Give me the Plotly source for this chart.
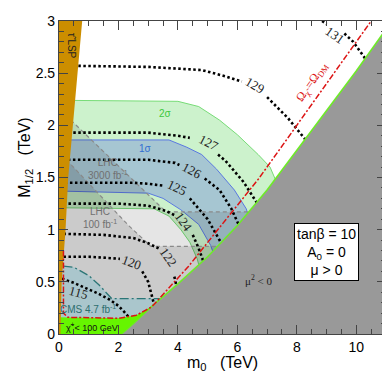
import plotly.graph_objects as go

# ---------------- data (TeV) ----------------
# boundary of the mu^2<0 (no EWSB) region
ewsb_x = [2.1, 2.5, 3.1, 4.0, 5.0, 6.0, 7.0, 8.0, 9.0, 10.0, 11.0]
ewsb_y = [0.0, 0.1, 0.26, 0.48, 0.74, 1.04, 1.38, 1.76, 2.14, 2.52, 2.92]

# stau LSP region
stau_x = [0, 0, 0.78, 0.62, 0.47, 0.31, 0.22, 0.09, 0.05]
stau_y = [0, 3, 3, 2.5, 2.0, 1.5, 1.0, 0.5, 0.0]

# chargino < 100 GeV region
chi_x = [0, 0, 2.0, 2.6, 3.12, 2.5, 2.1]
chi_y = [0, 0.16, 0.15, 0.18, 0.26, 0.1, 0]

# 2 sigma band
sig2_up_x = [0, 4.0, 4.7, 5.4, 6.0, 6.7, 7.1, 7.4, 7.7]
sig2_up_y = [2.24, 2.23, 2.18, 2.05, 1.91, 1.72, 1.6, 1.4, 1.1]
sig2_lo_x = [0, 3.2, 3.7, 4.1, 4.4, 4.65, 4.85]
sig2_lo_y = [1.21, 1.2, 1.13, 1.0, 0.88, 0.72, 0.5]

# 1 sigma band
sig1_up_x = [0, 3.7, 4.3, 4.8, 5.3, 5.9, 6.3, 6.6]
sig1_up_y = [1.86, 1.86, 1.79, 1.72, 1.58, 1.38, 1.2, 0.9]
sig1_lo_x = [0, 3.0, 3.5, 4.1, 4.7, 5.1, 5.35]
sig1_lo_y = [1.37, 1.35, 1.3, 1.19, 1.05, 0.85, 0.65]

# LHC reach
lhc3000_x = [0.4, 2.78, 3.6, 6.6]
lhc3000_y = [2.05, 1.40, 1.17, 1.17]
lhc100_x = [0.25, 2.34, 3.09, 5.6]
lhc100_y = [1.67, 1.04, 0.84, 0.84]

# CMS 4.7 fb^-1 exclusion
cms_x = [0.15, 0.5, 1.0, 1.35, 1.77, 3.5]
cms_y = [0.65, 0.64, 0.56, 0.47, 0.34, 0.34]

# relic density line
relic_x = [0.15, 0.15, 0.3, 2.0, 2.6, 3.12, 4.36, 6.72, 8.0, 10.5]
relic_y = [0.8, 0.2, 0.16, 0.15, 0.18, 0.26, 0.65, 1.49, 2.0, 3.0]

# Higgs mass contours (GeV): x, y, label position, label angle
mh_levels = ["115", "120", "122", "124", "125", "126", "127", "129", "131"]
mh_x = [
    [0.1, 0.5, 0.9, 1.3, 1.7, 2.0, 2.2, 2.35],
    [0.15, 1.0, 1.6, 2.05, None, 2.8, 3.0, 3.12, 3.2],
    [0.15, 1.5, 2.5, 3.0, 3.35, None, 3.88, 3.96, 4.0],
    [0.15, 2.0, 3.0, 3.6, 3.95, None, 4.5, 4.7, 4.85, 4.95],
    [0.2, 2.5, 3.0, 3.55, None, 4.4, 5.0, 5.3, 5.5, 5.6],
    [0.3, 3.0, 3.9, 4.05, None, 4.9, 5.4, 5.8, 6.05, 6.2],
    [0.48, 3.0, 4.0, 4.4, None, 5.35, 5.6, 6.2, 6.65, 6.8],
    [0.65, 3.0, 4.8, 5.6, 6.15, None, 7.0, 7.7, 8.3, 8.45],
    [8.85, 9.0, None, 9.6, 9.9, 10.3, 10.45],
]
mh_y = [
    [0.53, 0.49, 0.44, 0.39, 0.33, 0.27, 0.21, 0.16],
    [0.74, 0.74, 0.73, 0.72, None, 0.6, 0.5, 0.37, 0.28],
    [0.96, 0.95, 0.92, 0.87, 0.82, None, 0.55, 0.46, 0.40],
    [1.25, 1.25, 1.23, 1.18, 1.13, None, 0.95, 0.82, 0.7, 0.6],
    [1.45, 1.45, 1.44, 1.42, None, 1.3, 1.1, 0.95, 0.85, 0.75],
    [1.67, 1.67, 1.64, 1.62, None, 1.49, 1.38, 1.2, 1.05, 0.95],
    [1.93, 1.93, 1.9, 1.88, None, 1.72, 1.66, 1.46, 1.26, 1.15],
    [2.57, 2.56, 2.53, 2.47, 2.42, None, 2.27, 2.07, 1.86, 1.78],
    [3.0, 2.97, None, 2.88, 2.80, 2.64, 2.55],
]
mh_lab_x = [0.65, 2.45, 3.68, 4.19, 3.96, 4.47, 5.03, 6.6, 9.3]
mh_lab_y = [0.40, 0.69, 0.73, 1.08, 1.40, 1.57, 1.84, 2.38, 2.86]
mh_lab_ang = [15, 20, 55, 55, 25, 28, 28, 30, 35]

# ---------------- figure ----------------
fig = go.Figure()


def poly(x, y, fill, line_color=None, width=0):
    fig.add_trace(go.Scatter(
        x=x, y=y, mode="lines", fill="toself", fillcolor=fill,
        line=dict(color=line_color or "rgba(0,0,0,0)", width=width),
        hoverinfo="skip", showlegend=False))


def path(x, y, color, width, dash):
    fig.add_trace(go.Scatter(
        x=x, y=y, mode="lines", line=dict(color=color, width=width, dash=dash),
        hoverinfo="skip", showlegend=False, connectgaps=False))


# bands
poly(sig2_up_x + sig2_lo_x[::-1], sig2_up_y + sig2_lo_y[::-1],
     "rgb(204,242,204)", "rgb(120,220,120)", 1)
poly(sig1_up_x + sig1_lo_x[::-1], sig1_up_y + sig1_lo_y[::-1],
     "rgb(166,198,210)", "rgb(90,120,225)", 1)
# LHC reach overlays
poly([0] + lhc3000_x + [7.5, 7.5, 0], [2.17] + lhc3000_y + [1.17, 0, 0],
     "rgba(0,0,0,0.10)")
poly([0] + lhc100_x + [6.0, 6.0, 0], [1.75] + lhc100_y + [0.84, 0, 0],
     "rgba(0,0,0,0.11)")
# CMS
poly([0] + cms_x + [3.6, 3.6, 0], [0.65] + cms_y + [0.34, 0.1, 0.1],
     "rgb(170,198,204)")
path(lhc3000_x, lhc3000_y, "#8a8a8a", 1.2, "4px,3px")
path(lhc100_x, lhc100_y, "#8a8a8a", 1.2, "4px,3px")
path(cms_x, cms_y, "#2b7676", 1.3, "9px,3px,2px,3px")

# Higgs contours
for xs, ys in zip(mh_x, mh_y):
    path(xs, ys, "black", 2.6, "2.5px,2.5px")

# no-EWSB region
poly(ewsb_x + [11], ewsb_y + [0], "rgb(153,153,153)", "rgb(110,235,40)", 1.6)
# chargino region
poly(chi_x, chi_y, "rgb(102,245,0)")
# stau region
poly(stau_x, stau_y, "rgb(204,142,0)")
# relic line
path(relic_x, relic_y, "rgb(220,20,20)", 1.5, "6px,2px,2px,2px")

# invisible trace on the mirror axes so their ticks are drawn
fig.add_trace(go.Scatter(x=[0], y=[0], xaxis="x2", yaxis="y2", mode="markers",
                         marker=dict(opacity=0), hoverinfo="skip",
                         showlegend=False))

ann = []
for t, x, y, a in zip(mh_levels, mh_lab_x, mh_lab_y, mh_lab_ang):
    ann.append(dict(x=x, y=y, text=t, textangle=a, showarrow=False,
                    font=dict(family="Liberation Serif", size=13, color="#222")))

sans = "Liberation Sans"
ann += [
    dict(x=0.45, y=2.76, text="τ̃ LSP", textangle=90, showarrow=False,
         font=dict(family=sans, size=10, color="#222")),
    dict(x=3.57, y=2.11, text="2σ", showarrow=False,
         font=dict(family=sans, size=10, color="rgb(60,200,60)")),
    dict(x=2.9, y=1.78, text="1σ", showarrow=False,
         font=dict(family=sans, size=10, color="rgb(50,110,210)")),
    dict(x=1.66, y=1.58, text="LHC<br>3000 fb<sup>-1</sup>", showarrow=False,
         font=dict(family=sans, size=10, color="#707070")),
    dict(x=1.38, y=1.11, text="LHC<br>100 fb<sup>-1</sup>", showarrow=False,
         font=dict(family=sans, size=10, color="#707070")),
    dict(x=0.96, y=0.24, text="CMS 4.7 fb<sup>-1</sup>", showarrow=False,
         font=dict(family=sans, size=10, color="rgb(45,110,110)")),
    dict(x=1.1, y=0.07, text="χ̃<sup>+</sup>< 100 GeV", showarrow=False,
         font=dict(family=sans, size=9, color="#111")),
    dict(x=6.72, y=0.52, text="μ<sup>2</sup> < 0", showarrow=False,
         font=dict(family="Liberation Serif", size=11, color="#222")),
    dict(x=8.51, y=2.42, text="Ω<sub>χ̃</sub> =Ω<sub>DM</sub>", textangle=-55,
         showarrow=False,
         font=dict(family="Liberation Serif", size=12, color="rgb(220,20,20)")),
    dict(x=9.0, y=0.79, text="tanβ = 10<br>A<sub>0</sub> = 0<br>μ > 0",
         showarrow=False, bgcolor="white", bordercolor="black", borderwidth=1,
         borderpad=2, align="center",
         font=dict(family=sans, size=14, color="black")),
    dict(xref="paper", yref="paper", x=-0.105, y=0.562,
         text="M<sub>1/2</sub>   (TeV)", textangle=-90, showarrow=False,
         xanchor="center", yanchor="middle",
         font=dict(family=sans, size=16, color="black")),
    dict(xref="paper", yref="paper", x=0.5, y=-0.094,
         text="m<sub>0</sub>   (TeV)", showarrow=False,
         xanchor="center", yanchor="middle",
         font=dict(family=sans, size=16, color="black")),
]

tick_common = dict(ticks="inside", ticklen=9, tickcolor="#444", showgrid=False,
                   zeroline=False, automargin=False)

fig.update_layout(
    width=390, height=375,
    margin=dict(l=51, r=12, t=13, b=49),
    plot_bgcolor="white", paper_bgcolor="white",
    annotations=ann,
    xaxis=dict(range=[0, 11], tickmode="array", tickvals=[0, 2, 4, 6, 8, 10],
               showline=True, linecolor="#444", linewidth=1.2, mirror=True,
               minor=dict(dtick=0.5, ticks="inside", ticklen=5, tickcolor="#444"),
               tickfont=dict(family=sans, size=14, color="black"),
               **tick_common),
    yaxis=dict(range=[0, 3], tickmode="array",
               tickvals=[0, 0.5, 1, 1.5, 2, 2.5, 3],
               ticktext=["0", "0.5", "1", "1.5", "2", "2.5", "3"],
               showline=True, linecolor="#444", linewidth=1.2, mirror=True,
               minor=dict(dtick=0.1, ticks="inside", ticklen=5, tickcolor="#444"),
               tickfont=dict(family=sans, size=14, color="black"),
               **tick_common),
    xaxis2=dict(range=[0, 11], overlaying="x", side="top", anchor="y2",
                tickmode="array", tickvals=[0, 2, 4, 6, 8, 10],
                showticklabels=False, showline=False,
                minor=dict(dtick=0.5, ticks="inside", ticklen=5, tickcolor="#444"),
                **tick_common),
    yaxis2=dict(range=[0, 3], overlaying="y", side="right", anchor="x2",
                tickmode="array", tickvals=[0, 0.5, 1, 1.5, 2, 2.5, 3],
                showticklabels=False, showline=False,
                minor=dict(dtick=0.1, ticks="inside", ticklen=5, tickcolor="#444"),
                **tick_common),
)

fig.write_html("out.html")
